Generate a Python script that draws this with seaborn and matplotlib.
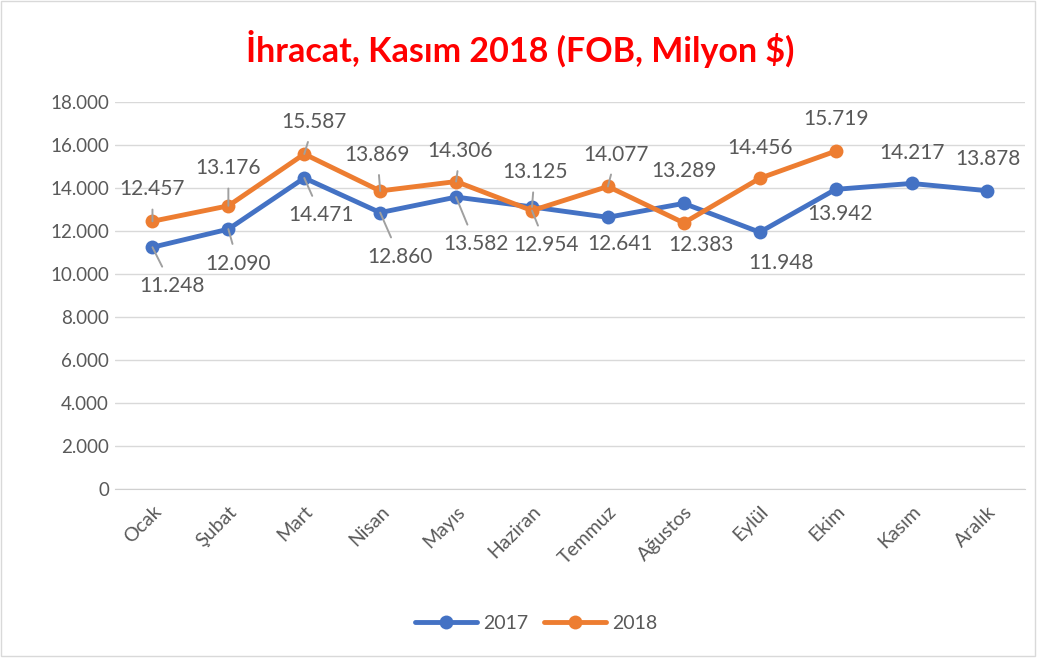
import pandas as pd
import seaborn as sns
import matplotlib.pyplot as plt
from matplotlib.patches import Rectangle
from matplotlib.ticker import FuncFormatter, FixedLocator

# Data (million $)
months = ["Ocak", "Şubat", "Mart", "Nisan", "Mayıs", "Haziran",
          "Temmuz", "Ağustos", "Eylül", "Ekim", "Kasım", "Aralık"]
exports_2017 = [11248, 12090, 14471, 12860, 13582, 13125,
                12641, 13289, 11948, 13942, 14217, 13878]
exports_2018 = [12457, 13176, 15587, 13869, 14306, 12954,
                14077, 12383, 14456, 15719]

# label offsets in points (dx, dy) and whether a leader line is drawn
offsets_2017 = [(14, -28), (7, -25), (12, -27), (14, -32), (14, -34), (2, 25),
                (9, -19), (0, 23), (15, -22), (3, -18), (0, 22), (0, 23)]
leaders_2017 = [1, 1, 1, 1, 1, 1, 0, 0, 0, 0, 0, 0]
offsets_2018 = [(0, 23), (0, 27), (7, 23), (-2, 26), (3, 22), (10, -25),
                (6, 23), (12, -16), (0, 22), (0, 23)]
leaders_2018 = [1, 1, 1, 1, 1, 1, 1, 0, 0, 0]

blue = "#4472C4"
orange = "#ED7D31"
grey_txt = "#595959"

df = pd.concat([
    pd.DataFrame({"Ay": months, "Değer": exports_2017, "Yıl": "2017"}),
    pd.DataFrame({"Ay": months[:len(exports_2018)], "Değer": exports_2018, "Yıl": "2018"}),
])
df["x"] = df["Ay"].map({m: i for i, m in enumerate(months)})

sns.set_style("white")
plt.rcParams["font.family"] = ["Lato", "DejaVu Sans"]

fig = plt.figure(figsize=(10.41, 6.59), dpi=100)
ax = fig.add_axes([0.11, 0.258, 0.875, 0.587])

sns.lineplot(data=df, x="x", y="Değer", hue="Yıl", palette=[blue, orange],
             marker="o", markersize=10, markeredgewidth=0, linewidth=3.5,
             ax=ax)

fmt = lambda v: f"{v:,.0f}".replace(",", ".")

for vals, offs, leads in [(exports_2017, offsets_2017, leaders_2017),
                          (exports_2018, offsets_2018, leaders_2018)]:
    for i, v in enumerate(vals):
        dx, dy = offs[i]
        kw = {}
        if leads[i]:
            kw["arrowprops"] = dict(arrowstyle="-", color="#A0A0A0", lw=1.4,
                                    shrinkA=5, shrinkB=0)
        ax.annotate(fmt(v), xy=(i, v), xytext=(dx, dy), textcoords="offset points",
                    ha="center", va="center", fontsize=15, color=grey_txt, **kw)

ax.set_ylim(0, 18000)
ax.set_yticks(range(0, 18001, 2000))
ax.yaxis.set_major_formatter(FuncFormatter(lambda v, p: fmt(v)))
ax.set_xlim(-0.5, 11.5)
ax.set_xticks(range(12))
ax.set_xticklabels(months, rotation=45, ha="right", rotation_mode="anchor")
ax.xaxis.set_minor_locator(FixedLocator([i - 0.5 for i in range(13)]))
ax.tick_params(axis="x", which="major", length=0, pad=10, labelsize=14, labelcolor=grey_txt)
ax.tick_params(axis="x", which="minor", length=6, width=1, color="#D0D0D0", direction="out")
ax.tick_params(axis="y", length=0, pad=4, labelsize=13.5, labelcolor=grey_txt)
ax.grid(axis="y", color="#D9D9D9", linewidth=1)
ax.set_axisbelow(True)
for s in ["top", "right", "left"]:
    ax.spines[s].set_visible(False)
ax.spines["bottom"].set_color("#D0D0D0")
ax.set_xlabel("")
ax.set_ylabel("")

ax.legend_.remove()
handles, labels = ax.get_legend_handles_labels()
fig.legend(handles, labels, loc="center", bbox_to_anchor=(0.515, 0.054), ncol=2,
           frameon=False, fontsize=14, handlelength=3.2, columnspacing=0.8,
           handletextpad=0.3, labelcolor=grey_txt)

fig.suptitle("İhracat, Kasım 2018 (FOB, Milyon $)", y=0.955, fontsize=24.5,
             fontweight="bold", color="#FF0000")

fig.patches.append(Rectangle((0.001, 0.005), 0.993, 0.993, transform=fig.transFigure,
                             fill=False, edgecolor="#D9D9D9", linewidth=1))

fig.savefig("out.png", dpi=100)
